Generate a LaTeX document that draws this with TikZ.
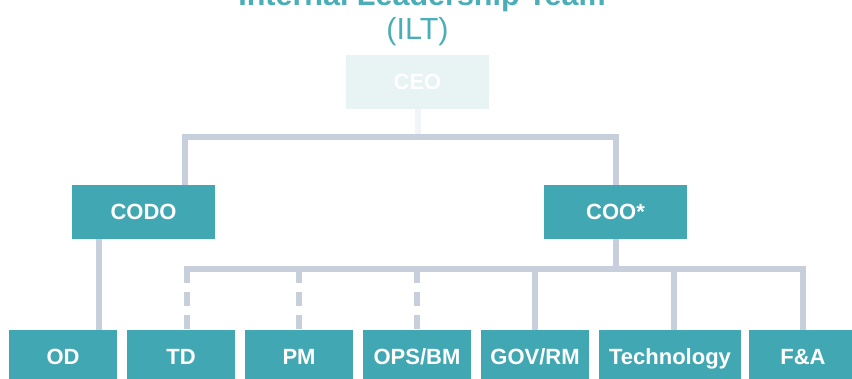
\documentclass[tikz,border=0pt]{standalone}
\usepackage{fontspec}
\setmainfont{Liberation Sans}
\definecolor{ilt}{HTML}{41A8B3}
\definecolor{ilttext}{HTML}{4AAEB8}
\definecolor{ceofill}{HTML}{E8F3F4}
\definecolor{wire}{HTML}{C8CFDC}
\definecolor{wirefaint}{HTML}{F3F4F7}
\tikzset{
  unit/.style={fill=ilt,text=white,font=\bfseries\fontsize{22}{24}\selectfont,
    minimum height=54pt,inner sep=0pt,text height=16pt,text depth=0pt},
  link/.style={draw=wire,line width=6pt,line join=miter},
  dashlink/.style={link,dash pattern=on 14pt off 9pt}
}
\begin{document}
\begin{tikzpicture}[x=1pt,y=-1pt]
                            \clip (0,0) rectangle (852,379);
                            \useasboundingbox (0,0) rectangle (852,379);
                            % heading
                            \node[anchor=base,text=ilttext,font=\bfseries\fontsize{30.5}{33}\selectfont] (title) at (422,6) {Internal Leadership Team};
                            \node[anchor=base,text=ilttext,font=\fontsize{30.5}{33}\selectfont] (ilt) at (417.5,40) {(ILT)};
                            % boxes
                            \node[unit,fill=ceofill,minimum width=143pt] (ceo) at (417.5,82) {CEO};
                            \node[unit,minimum width=143pt] (codo) at (143.5,212) {CODO};
                            \node[unit,minimum width=143pt] (coo) at (615.5,212) {COO*};
                            \node[unit,minimum width=108pt] (od) at (63,357) {OD};
                            \node[unit,minimum width=108pt] (td) at (181,357) {TD};
                            \node[unit,minimum width=108pt] (pm) at (299,357) {PM};
                            \node[unit,minimum width=108pt] (opsbm) at (417,357) {OPS/BM};
                            \node[unit,minimum width=108pt] (govrm) at (535,357) {GOV/RM};
                            \node[unit,minimum width=142pt] (tech) at (670,357) {Technology};
                            \node[unit,minimum width=108pt] (fa) at (803,357) {F\&A};
                            % lines
                            \coordinate (topL) at (185,137);
                            \coordinate (topR) at (616,137);
                            \coordinate (busL) at (187,269);
                            \coordinate (busR) at (803,269);
                            \draw[link,draw=wirefaint] (ceo.south) -- (ceo.south |- topL);
                            \draw[link] (codo.north -| topL) -- (topL) -- (topR) -- (coo.north -| topR);
                            \draw[link] ([xshift=-44.5pt]codo.south) -- ([xshift=36pt]od.north);
                            \draw[link] (coo.south -| topR) -- (busL -| topR);
                            \draw[link] ([xshift=-3pt]busL) -- (busR) -- (fa.north);
                            \draw[dashlink] (busL) -- (busL |- td.north);
                            \draw[dashlink] (pm.north |- busL) -- (pm.north);
                            \draw[dashlink] (opsbm.north |- busL) -- (opsbm.north);
                            \draw[link] (govrm.north |- busL) -- (govrm.north);
                            \draw[link] ([xshift=4pt]tech.north |- busL) -- ([xshift=4pt]tech.north);
                        \end{tikzpicture}
\end{document}
